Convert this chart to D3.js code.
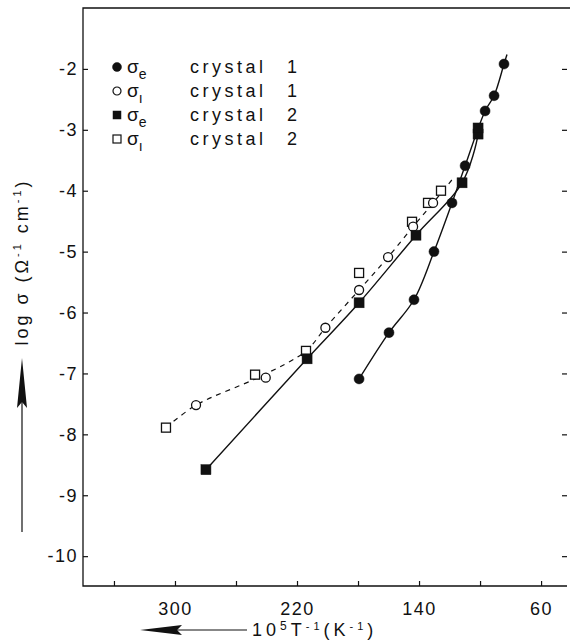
<!DOCTYPE html>
<html>
<head>
<meta charset="utf-8">
<script src="https://cdn.jsdelivr.net/npm/d3@7"></script>
<style>
  body { margin: 0; background: #fff; }
  svg text { font-family: "Liberation Sans", Arial, sans-serif; fill: #111; }
</style>
</head>
<body>
<div id="chart"></div>
<script>
// data //
// t = 10^5 / T (K^-1), s = log sigma
const sigmaE1 = [
  { t: 84.3, s: -1.92 }, { t: 90.8, s: -2.44 }, { t: 96.7, s: -2.69 },
  { t: 109.8, s: -3.59 }, { t: 118.4, s: -4.20 }, { t: 130.2, s: -5.00 },
  { t: 143.3, s: -5.79 }, { t: 159.7, s: -6.33 }, { t: 179.3, s: -7.09 }
];
const sigmaI1 = [
  { t: 286.2, s: -7.52 }, { t: 240.5, s: -7.07 }, { t: 201.4, s: -6.25 },
  { t: 179.3, s: -5.63 }, { t: 160.3, s: -5.09 }, { t: 143.9, s: -4.59 },
  { t: 130.8, s: -4.20 }
];
const sigmaE2 = [
  { t: 279.7, s: -8.58 }, { t: 213.4, s: -6.76 }, { t: 179.3, s: -5.84 },
  { t: 142.0, s: -4.73 }, { t: 111.8, s: -3.87 }, { t: 101.3, s: -3.07 },
  { t: 101.3, s: -2.97 }
];
const sigmaI2 = [
  { t: 305.9, s: -7.89 }, { t: 247.5, s: -7.02 }, { t: 214.1, s: -6.63 },
  { t: 179.3, s: -5.35 }, { t: 144.6, s: -4.51 }, { t: 134.1, s: -4.20 },
  { t: 125.6, s: -4.00 }
];
// dashed trend drawn through the sigma_i points
const sigmaIFit = [
  { t: 305.9, s: -7.89 }, { t: 286.2, s: -7.52 }, { t: 244.0, s: -7.05 },
  { t: 214.1, s: -6.63 }, { t: 201.4, s: -6.25 }, { t: 179.3, s: -5.63 },
  { t: 160.3, s: -5.09 }, { t: 143.9, s: -4.59 }, { t: 130.8, s: -4.20 },
  { t: 118.4, s: -3.82 }
];

const xTicks = [340, 300, 260, 220, 180, 140, 100, 60];
const xLabels = [300, 220, 140, 60];
const yTicks = [-2, -3, -4, -5, -6, -7, -8, -9, -10];

const legendRows = [
  { sub: "e", crystal: "1", shape: "circle", filled: true },
  { sub: "\u0131", crystal: "1", shape: "circle", filled: false },
  { sub: "e", crystal: "2", shape: "square", filled: true },
  { sub: "\u0131", crystal: "2", shape: "square", filled: false }
];

// dimensions
const W = 570, H = 641;
const margin = { top: 8, right: 3, bottom: 55, left: 83 };
const width = W - margin.left - margin.right;
const height = H - margin.top - margin.bottom;

const root = d3.select("#chart").append("svg")
  .attr("width", W).attr("height", H);
const svg = root.append("g")
  .attr("transform", `translate(${margin.left},${margin.top})`);

const x = d3.scaleLinear().domain([360.3, 43]).range([0, width]);
const y = d3.scaleLinear().domain([-10.49, -1.0]).range([height, 0]);

// frame: left, bottom, top
svg.append("path")
  .attr("d", `M${width + 3},0 H0 V${height} H${width}`)
  .attr("fill", "none").attr("stroke", "#111").attr("stroke-width", 1.3);

// x axis
const xAxis = svg.append("g")
  .attr("transform", `translate(0,${height})`)
  .call(d3.axisBottom(x).tickValues(xTicks).tickSize(-5)
    .tickFormat(d => xLabels.includes(d) ? d : ""));
xAxis.select(".domain").remove();
xAxis.selectAll(".tick line").attr("stroke", "#111").attr("stroke-width", 1.2);
xAxis.selectAll(".tick text")
  .attr("y", 16).attr("font-size", 18).attr("letter-spacing", 1.5);

// y axis
const yAxis = svg.append("g")
  .call(d3.axisLeft(y).tickValues(yTicks).tickSize(-5)
    .tickFormat(d => "-" + Math.abs(d)));
yAxis.select(".domain").remove();
yAxis.selectAll(".tick line").attr("stroke", "#111").attr("stroke-width", 1.2);
yAxis.selectAll(".tick text")
  .attr("x", -5).attr("font-size", 18).attr("letter-spacing", 1.5);

// right side ticks
const yRight = svg.append("g")
  .attr("transform", `translate(${width},0)`)
  .call(d3.axisRight(y).tickValues(yTicks).tickSize(-5).tickFormat(""));
yRight.select(".domain").remove();
yRight.selectAll(".tick line").attr("stroke", "#111").attr("stroke-width", 1.2);

// lines
const line = d3.line()
  .x(d => x(d.t)).y(d => y(d.s))
  .curve(d3.curveCatmullRom.alpha(0.5));

const byT = arr => arr.slice().sort((a, b) => b.t - a.t);

// small extension beyond the last point of crystal 1 sigma_e
const e1 = byT(sigmaE1);
const last = e1[e1.length - 1], prev = e1[e1.length - 2];
const e1ext = e1.concat([{ t: last.t + (last.t - prev.t) * 0.3, s: last.s + (last.s - prev.s) * 0.3 }]);

svg.append("path").datum(e1ext)
  .attr("fill", "none").attr("stroke", "#111").attr("stroke-width", 1.4)
  .attr("d", line);
svg.append("path").datum(byT(sigmaE2))
  .attr("fill", "none").attr("stroke", "#111").attr("stroke-width", 1.4)
  .attr("d", line);
svg.append("path").datum(sigmaIFit)
  .attr("fill", "none").attr("stroke", "#111").attr("stroke-width", 1.2)
  .attr("stroke-dasharray", "5,5")
  .attr("d", line);

// markers
function drawMarkers(data, shape, filled) {
  const g = svg.append("g");
  if (shape === "circle") {
    g.selectAll("circle").data(data).join("circle")
      .attr("cx", d => x(d.t)).attr("cy", d => y(d.s))
      .attr("r", filled ? 5 : 4.5)
      .attr("fill", filled ? "#111" : "#fff")
      .attr("stroke", "#111").attr("stroke-width", filled ? 0.5 : 1.3);
  } else {
    const a = filled ? 10 : 9;
    g.selectAll("rect").data(data).join("rect")
      .attr("x", d => x(d.t) - a / 2).attr("y", d => y(d.s) - a / 2)
      .attr("width", a).attr("height", a)
      .attr("fill", filled ? "#111" : "#fff")
      .attr("stroke", "#111").attr("stroke-width", filled ? 0.5 : 1.3);
  }
}
drawMarkers(sigmaI2, "square", false);
drawMarkers(sigmaI1, "circle", false);
drawMarkers(sigmaE2, "square", true);
drawMarkers(sigmaE1, "circle", true);

// legend
const legend = root.append("g").attr("transform", "translate(117,67)");
legendRows.forEach((r, i) => {
  const row = legend.append("g").attr("transform", `translate(0,${i * 24})`);
  if (r.shape === "circle") {
    row.append("circle").attr("r", r.filled ? 4.5 : 4)
      .attr("fill", r.filled ? "#111" : "#fff")
      .attr("stroke", "#111").attr("stroke-width", r.filled ? 0.5 : 1.2);
  } else {
    row.append("rect").attr("x", -4).attr("y", -4).attr("width", 8).attr("height", 8)
      .attr("fill", r.filled ? "#111" : "#fff")
      .attr("stroke", "#111").attr("stroke-width", r.filled ? 0.5 : 1.2);
  }
  const t = row.append("text").attr("x", 10).attr("y", 6).attr("font-size", 19);
  t.append("tspan").text("\u03c3");
  t.append("tspan").attr("dy", 6).attr("font-size", 14).text(r.sub);
  row.append("text").attr("x", 73).attr("y", 6).attr("font-size", 18)
    .attr("letter-spacing", 3.5).text("crystal");
  row.append("text").attr("x", 170).attr("y", 6).attr("font-size", 18)
    .text(r.crystal);
});

// y axis label
const yLab = root.append("text")
  .attr("text-anchor", "middle")
  .attr("transform", "translate(28,262) rotate(-90)")
  .attr("font-size", 18).attr("letter-spacing", 3);
yLab.append("tspan").text("log \u03c3 (\u03a9");
yLab.append("tspan").attr("dy", -7).attr("font-size", 11).text("-1");
yLab.append("tspan").attr("dy", 7).text(" cm");
yLab.append("tspan").attr("dy", -7).attr("font-size", 11).text("-1");
yLab.append("tspan").attr("dy", 7).text(")");

// y arrow
root.append("line").attr("x1", 22).attr("x2", 22).attr("y1", 532).attr("y2", 395)
  .attr("stroke", "#111").attr("stroke-width", 1.2);
root.append("path").attr("d", "M22,358 L27,408 L22,402 L17,408 Z").attr("fill", "#111");

// x axis label
const xLab = root.append("text")
  .attr("x", 252).attr("y", 636).attr("font-size", 18).attr("letter-spacing", 4);
xLab.append("tspan").text("10");
xLab.append("tspan").attr("dy", -6).attr("font-size", 12).text("5");
xLab.append("tspan").attr("dy", 6).text("T");
xLab.append("tspan").attr("dy", -6).attr("font-size", 11).text("-1");
xLab.append("tspan").attr("dy", 6).text("(K");
xLab.append("tspan").attr("dy", -6).attr("font-size", 11).text("-1");
xLab.append("tspan").attr("dy", 6).text(")");

// x arrow
root.append("line").attr("x1", 247).attr("x2", 175).attr("y1", 630).attr("y2", 630)
  .attr("stroke", "#111").attr("stroke-width", 1.2);
root.append("path").attr("d", "M140,630 L182,625 L177,630 L182,635 Z").attr("fill", "#111");
</script>
</body>
</html>
